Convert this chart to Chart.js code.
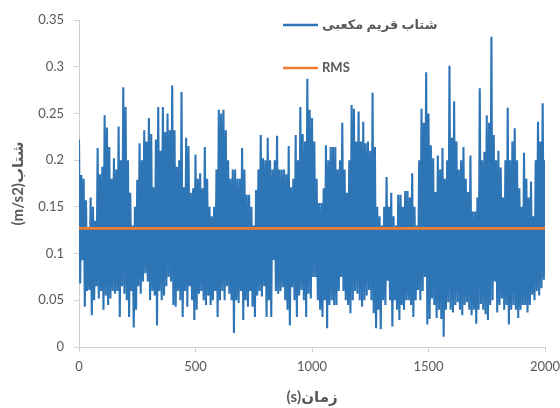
<!DOCTYPE html>
<html>
<head>
<meta charset="utf-8">
<script src="https://cdn.jsdelivr.net/npm/chart.js@4/dist/chart.umd.min.js"></script>
<style>
  html, body { margin: 0; padding: 0; background: #ffffff; }
  #wrap { width: 560px; height: 408px; }
</style>
</head>
<body>
<div id="wrap"><canvas id="c" width="560" height="408"></canvas></div>
<script>
// ---- data ----
const seriesLabels = ['شتاب قریم مکعبی', 'RMS'];
const sampleStep = 5; // seconds between samples
const accelValues = [
  0.222,0.068,0.184,0.093,0.18,0.043,0.157,0.06,0.128,0.061,0.16,0.034,0.15,0.05,0.135,0.065,0.213,0.052,0.185,0.06,
  0.193,0.04,0.248,0.055,0.235,0.045,0.214,0.052,0.18,0.06,0.202,0.057,0.19,0.06,0.236,0.032,0.2,0.065,0.278,0.057,
  0.257,0.05,0.2,0.032,0.165,0.06,0.13,0.021,0.15,0.04,0.179,0.065,0.218,0.057,0.2,0.07,0.232,0.079,0.22,0.07,
  0.245,0.05,0.228,0.06,0.171,0.055,0.222,0.023,0.257,0.06,0.21,0.05,0.257,0.055,0.23,0.065,0.25,0.075,0.232,0.07,
  0.28,0.045,0.232,0.043,0.193,0.06,0.2,0.05,0.273,0.032,0.171,0.06,0.224,0.043,0.215,0.065,0.165,0.05,0.17,0.029,
  0.206,0.04,0.18,0.057,0.186,0.06,0.17,0.05,0.214,0.045,0.18,0.055,0.15,0.045,0.14,0.05,0.15,0.06,0.19,0.032,
  0.254,0.05,0.25,0.06,0.254,0.05,0.232,0.065,0.2,0.057,0.18,0.05,0.19,0.015,0.19,0.05,0.18,0.047,0.18,0.06,
  0.213,0.029,0.19,0.05,0.163,0.043,0.163,0.06,0.15,0.043,0.13,0.032,0.168,0.055,0.19,0.06,0.227,0.054,0.202,0.065,
  0.2,0.032,0.224,0.05,0.2,0.032,0.19,0.093,0.2,0.06,0.226,0.057,0.19,0.06,0.19,0.064,0.19,0.05,0.185,0.04,
  0.215,0.023,0.171,0.064,0.18,0.05,0.227,0.032,0.2,0.055,0.257,0.061,0.228,0.05,0.22,0.032,0.287,0.057,0.254,0.052,
  0.245,0.075,0.22,0.075,0.18,0.05,0.154,0.04,0.154,0.032,0.17,0.05,0.216,0.02,0.2,0.045,0.214,0.05,0.214,0.045,
  0.214,0.045,0.19,0.06,0.2,0.075,0.24,0.06,0.19,0.05,0.165,0.045,0.2,0.036,0.259,0.05,0.255,0.06,0.22,0.057,
  0.252,0.05,0.22,0.043,0.241,0.05,0.218,0.055,0.22,0.061,0.21,0.05,0.272,0.036,0.214,0.02,0.15,0.04,0.14,0.019,
  0.13,0.05,0.15,0.045,0.182,0.071,0.15,0.05,0.165,0.022,0.14,0.05,0.13,0.04,0.163,0.029,0.163,0.045,0.15,0.04,
  0.167,0.05,0.167,0.05,0.16,0.045,0.186,0.032,0.15,0.05,0.13,0.061,0.2,0.05,0.255,0.06,0.24,0.075,0.294,0.024,
  0.25,0.03,0.216,0.052,0.202,0.045,0.166,0.031,0.205,0.04,0.19,0.03,0.213,0.011,0.18,0.04,0.2,0.048,0.301,0.04,
  0.224,0.037,0.263,0.045,0.22,0.048,0.19,0.04,0.2,0.034,0.214,0.045,0.18,0.048,0.166,0.04,0.205,0.034,0.145,0.04,
  0.145,0.025,0.16,0.04,0.277,0.046,0.2,0.04,0.209,0.035,0.248,0.029,0.24,0.045,0.332,0.05,0.227,0.07,0.2,0.037,
  0.21,0.045,0.192,0.052,0.16,0.04,0.2,0.045,0.256,0.024,0.2,0.04,0.22,0.045,0.234,0.04,0.2,0.031,0.17,0.04,
  0.15,0.045,0.208,0.045,0.18,0.037,0.16,0.045,0.177,0.056,0.14,0.05,0.2,0.06,0.241,0.055,0.22,0.063,0.261,0.072,
  0.2
];
const rmsValue = [0.127];
const xTickValues = [0, 500, 1000, 1500, 2000];
const yTickValues = [0, 0.05, 0.1, 0.15, 0.2, 0.25, 0.3, 0.35];
const yTickLabels = ['0', '0.05', '0.1', '0.15', '0.2', '0.25', '0.3', '0.35'];
const xTitle = 'زمان(s)';
const yTitle = 'شتاب(m/s2)';

// ---- build chart ----
const accelPoints = accelValues.map((v, i) => ({ x: i * sampleStep, y: v }));
const xMax = xTickValues[xTickValues.length - 1];
const rmsPoints = [{ x: xTickValues[0], y: rmsValue[0] }, { x: xMax, y: rmsValue[0] }];

const BLUE = '#2E75B6';
const ORANGE = '#ED7D31';
const TEXT = '#595959';
const AXIS = '#d0d0d0';
const FONT = 'Lato, "DejaVu Sans", sans-serif';

const rtlPlugin = {
  id: 'rtlText',
  beforeDraw(chart) { chart.ctx.direction = 'rtl'; }
};

const legendPlugin = {
  id: 'insideLegend',
  afterDatasetsDraw(chart) {
    const { ctx, chartArea } = chart;
    const x0 = chartArea.left + 204;
    const rows = [chartArea.top + 5, chartArea.top + 48];
    ctx.save();
    ctx.direction = 'ltr';
    chart.data.datasets.forEach((ds, i) => {
      const y = rows[i];
      ctx.strokeStyle = ds.borderColor;
      ctx.lineWidth = 2.5;
      ctx.beginPath();
      ctx.moveTo(x0, y);
      ctx.lineTo(x0 + 35, y);
      ctx.stroke();
      ctx.fillStyle = TEXT;
      ctx.font = 'bold 13px ' + FONT;
      ctx.textAlign = 'left';
      ctx.textBaseline = 'middle';
      ctx.fillText(ds.label, x0 + 39, y);
    });
    ctx.restore();
  }
};

new Chart(document.getElementById('c'), {
  type: 'line',
  data: {
    datasets: [
      {
        label: seriesLabels[0],
        data: accelPoints,
        borderColor: BLUE,
        borderWidth: 2.1,
        pointRadius: 0,
        tension: 0,
        order: 2
      },
      {
        label: seriesLabels[1],
        data: rmsPoints,
        borderColor: ORANGE,
        borderWidth: 2.6,
        pointRadius: 0,
        tension: 0,
        order: 1
      }
    ]
  },
  options: {
    responsive: false,
    animation: false,
    events: [],
    layout: { padding: { left: 0, top: 20, right: 0, bottom: 0 } },
    plugins: {
      legend: { display: false },
      tooltip: { enabled: false }
    },
    scales: {
      x: {
        type: 'linear',
        min: 0,
        max: xMax,
        afterBuildTicks: (s) => { s.ticks = xTickValues.map(v => ({ value: v })); },
        afterFit: (s) => { s.height = 61; s.paddingRight = 15; },
        grid: { drawOnChartArea: false, drawTicks: true, tickLength: 5, color: AXIS },
        border: { display: true, color: AXIS, width: 1 },
        ticks: {
          color: TEXT,
          padding: 7,
          maxRotation: 0,
          font: { family: FONT, size: 13 },
          callback: (v) => String(v)
        },
        title: {
          display: true,
          text: xTitle,
          color: TEXT,
          padding: { top: 0, bottom: 2 },
          font: { family: FONT, size: 15, weight: 'bold' }
        }
      },
      y: {
        type: 'linear',
        min: 0,
        max: yTickValues[yTickValues.length - 1],
        afterBuildTicks: (s) => { s.ticks = yTickValues.map(v => ({ value: v })); },
        afterFit: (s) => { s.width = 79; },
        grid: { drawOnChartArea: false, drawTicks: true, tickLength: 5, color: AXIS },
        border: { display: true, color: AXIS, width: 1 },
        ticks: {
          color: TEXT,
          padding: 10,
          font: { family: FONT, size: 13 },
          callback: (v) => {
            const k = yTickValues.findIndex(t => Math.abs(t - v) < 1e-9);
            return k >= 0 ? yTickLabels[k] : '';
          }
        },
        title: {
          display: true,
          text: yTitle,
          color: TEXT,
          padding: { top: 9, bottom: 0 },
          font: { family: FONT, size: 15, weight: 'bold' }
        }
      }
    }
  },
  plugins: [rtlPlugin, legendPlugin]
});
</script>
</body>
</html>
